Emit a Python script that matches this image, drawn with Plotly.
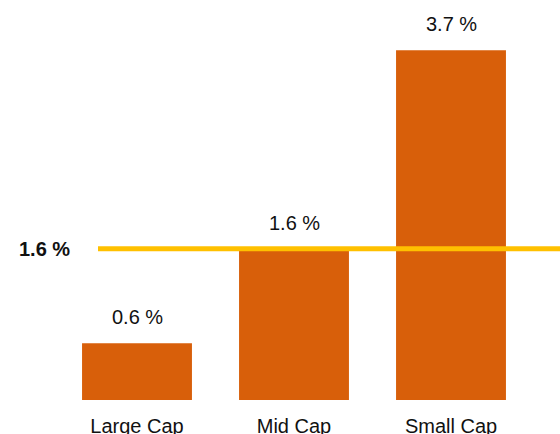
import plotly.graph_objects as go

# Average value per market-cap segment (percent)
categories = ["Large Cap", "Mid Cap", "Small Cap"]
values = [0.6, 1.6, 3.7]
value_labels = ["0.6 %", "1.6 %", "3.7 %"]

# Overall reference level drawn as a horizontal line
reference_value = 1.6
reference_label = "1.6 %"

BAR_COLOR = "#D85F0A"
LINE_COLOR = "#FFC000"
TEXT_COLOR = "#111111"
FONT = "Liberation Sans, Arial, Helvetica, sans-serif"

fig = go.Figure(
    go.Bar(
        x=categories,
        y=values,
        width=0.7,
        marker=dict(color=BAR_COLOR, line=dict(width=0)),
        hoverinfo="skip",
    )
)

# Value labels above each bar
for cat, val, lab in zip(categories, values, value_labels):
    fig.add_annotation(
        x=cat, y=val, text=lab, showarrow=False,
        xanchor="center", yanchor="bottom", yshift=13,
        font=dict(family=FONT, size=20, color=TEXT_COLOR),
    )

# Reference line across the chart, with its bold label at the left
fig.add_shape(
    type="line", xref="paper", yref="y",
    x0=0.175, x1=1.0, y0=reference_value, y1=reference_value,
    line=dict(color=LINE_COLOR, width=5),
    layer="above",
)
fig.add_annotation(
    xref="paper", yref="y", x=44 / 560, y=reference_value,
    text=f"<b>{reference_label}</b>", showarrow=False,
    xanchor="center", yanchor="middle",
    font=dict(family=FONT, size=20, color=TEXT_COLOR),
)

fig.update_layout(
    width=560, height=434,
    margin=dict(l=0, r=0, t=0, b=34, pad=0, autoexpand=False),
    paper_bgcolor="white", plot_bgcolor="white",
    showlegend=False,
    font=dict(family=FONT, size=20, color=TEXT_COLOR),
)
fig.update_xaxes(
    type="category", range=[-0.8726, 2.6943],
    automargin=False,
    showgrid=False, zeroline=False, showline=False, ticks="",
    ticklabelstandoff=12,
    tickfont=dict(family=FONT, size=20, color=TEXT_COLOR),
)
fig.update_yaxes(
    range=[0, 400 / 94.5], visible=False, automargin=False,
    showgrid=False, zeroline=False,
)

fig.write_html("out.html")
